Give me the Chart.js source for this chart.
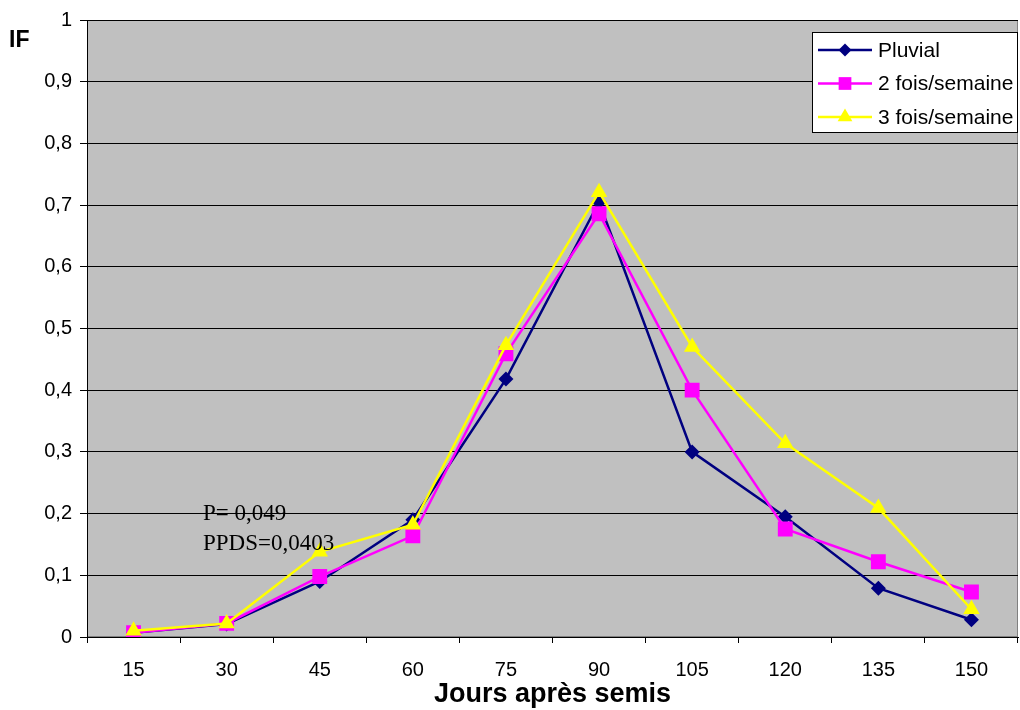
<!DOCTYPE html>
<html>
<head>
<meta charset="utf-8">
<script src="https://cdn.jsdelivr.net/npm/chart.js@4/dist/chart.umd.min.js"></script>
<style>
  body { margin: 0; background: #fff; }
  #wrap { width: 1020px; height: 710px; }
</style>
</head>
<body>
<div id="wrap"><canvas id="ifChart" width="1020" height="710"></canvas></div>
<script>
// jours apres semis
const jours = ['15', '30', '45', '60', '75', '90', '105', '120', '135', '150'];

// indice de floraison par traitement
const pluvial = [0.007, 0.021, 0.090, 0.190, 0.418, 0.705, 0.300, 0.195, 0.079, 0.028];
const deuxFois = [0.007, 0.022, 0.098, 0.164, 0.459, 0.686, 0.400, 0.175, 0.122, 0.073];
const troisFois = [0.010, 0.022, 0.138, 0.182, 0.473, 0.721, 0.470, 0.314, 0.209, 0.045];

const seriesNames = ['Pluvial', '2 fois/semaine', '3 fois/semaine'];
const statsText = ['P= 0,049', 'PPDS=0,0403'];

const colors = ['#000080', '#FF00FF', '#FFFF00'];
const markers = ['rectRot', 'rect', 'triangle'];
const markerSize = [7.5, 10.5, 9.5];
const legendMarker = [6.5, 9, 8.5];

const SANS = '"Liberation Sans", Arial, sans-serif';

// fond gris + cadre de la zone de trace
const plotBg = {
    id: 'plotBg',
    beforeDraw(chart) {
        const a = chart.chartArea;
        const ctx = chart.ctx;
        ctx.save();
        ctx.fillStyle = '#C0C0C0';
        ctx.fillRect(a.left, a.top, a.right - a.left, a.bottom - a.top);
        ctx.strokeStyle = '#808080';
        ctx.lineWidth = 1;
        ctx.strokeRect(a.left + 0.5, a.top + 0.5, a.right - a.left - 1, a.bottom - a.top - 1);
        ctx.restore();
    },
    afterDraw(chart) {
        const ctx = chart.ctx;
        const a = chart.chartArea;
        ctx.save();
        // axe Y
        ctx.strokeStyle = '#000';
        ctx.lineWidth = 1;
        ctx.beginPath();
        ctx.moveTo(a.left + 0.5, a.top);
        ctx.lineTo(a.left + 0.5, a.bottom);
        ctx.stroke();
        // label IF
        ctx.fillStyle = '#000';
        ctx.font = 'bold 23px ' + SANS;
        ctx.textBaseline = 'middle';
        ctx.textAlign = 'left';
        ctx.fillText('IF', 9, 41);
        // stats
        ctx.font = '23px "Liberation Serif", "Times New Roman", serif';
        ctx.fillText(statsText[0], 203, 514);
        ctx.fillText(statsText[1], 203, 544);

        // legende
        const lx = 812, ly = 32, lw = 206, lh = 101;
        ctx.fillStyle = '#fff';
        ctx.fillRect(lx, ly, lw, lh);
        ctx.strokeStyle = '#000';
        ctx.strokeRect(lx + 0.5, ly + 0.5, lw - 1, lh - 1);
        ctx.font = '21px ' + SANS;
        for (let i = 0; i < seriesNames.length; i++) {
            const y = ly + 18 + i * 33.5;
            ctx.strokeStyle = colors[i];
            ctx.lineWidth = 2.5;
            ctx.beginPath();
            ctx.moveTo(lx + 6, y);
            ctx.lineTo(lx + 60, y);
            ctx.stroke();
            ctx.fillStyle = colors[i];
            Chart.helpers.drawPoint(ctx, {
                pointStyle: markers[i], radius: legendMarker[i], rotation: 0, borderWidth: 0
            }, lx + 33, y);
            ctx.fillStyle = '#000';
            ctx.fillText(seriesNames[i], lx + 66, y + 1);
        }
        ctx.restore();
    }
};

const allSeries = [pluvial, deuxFois, troisFois];

const ctx = document.getElementById('ifChart').getContext('2d');
new Chart(ctx, {
    type: 'line',
    data: {
        labels: jours,
        datasets: allSeries.map((d, i) => ({
            label: seriesNames[i],
            data: d,
            borderColor: colors[i],
            backgroundColor: colors[i],
            borderWidth: 2.5,
            pointStyle: markers[i],
            pointRadius: markerSize[i],
            pointBorderWidth: 0,
            pointHoverRadius: markerSize[i],
            tension: 0,
            order: 3 - i
        }))
    },
    options: {
        responsive: false,
        animation: false,
        layout: { autoPadding: false, padding: { left: 0, right: 2, top: 20, bottom: 0 } },
        plugins: {
            legend: { display: false },
            tooltip: { enabled: false }
        },
        scales: {
            x: {
                offset: true,
                grid: {
                    drawOnChartArea: false,
                    offset: true,
                    color: '#000',
                    tickLength: 6,
                    tickColor: '#000'
                },
                border: { color: '#000', width: 1 },
                ticks: {
                    color: '#000',
                    padding: 15,
                    maxRotation: 0,
                    font: { family: SANS, size: 20 }
                },
                title: {
                    display: true,
                    text: 'Jours après semis',
                    color: '#000',
                    padding: { top: 0, bottom: 2 },
                    font: { family: SANS, size: 27, weight: 'bold', lineHeight: 1 }
                },
                afterFit(scale) {
                    scale.height = 73;
                    scale.paddingLeft = 0;
                    scale.paddingRight = 0;
                }
            },
            y: {
                min: 0,
                max: 1,
                grid: {
                    color: '#000',
                    lineWidth: 1,
                    tickLength: 7,
                    tickColor: '#000'
                },
                border: { color: '#000', width: 1 },
                ticks: {
                    stepSize: 0.1,
                    color: '#000',
                    padding: 8,
                    font: { family: SANS, size: 20 },
                    callback: v => String(Math.round(v * 10) / 10).replace('.', ',')
                },
                afterFit(scale) {
                    scale.width = 87;
                    scale.paddingTop = 0;
                    scale.paddingBottom = 0;
                }
            }
        }
    },
    plugins: [plotBg]
});
</script>
</body>
</html>
